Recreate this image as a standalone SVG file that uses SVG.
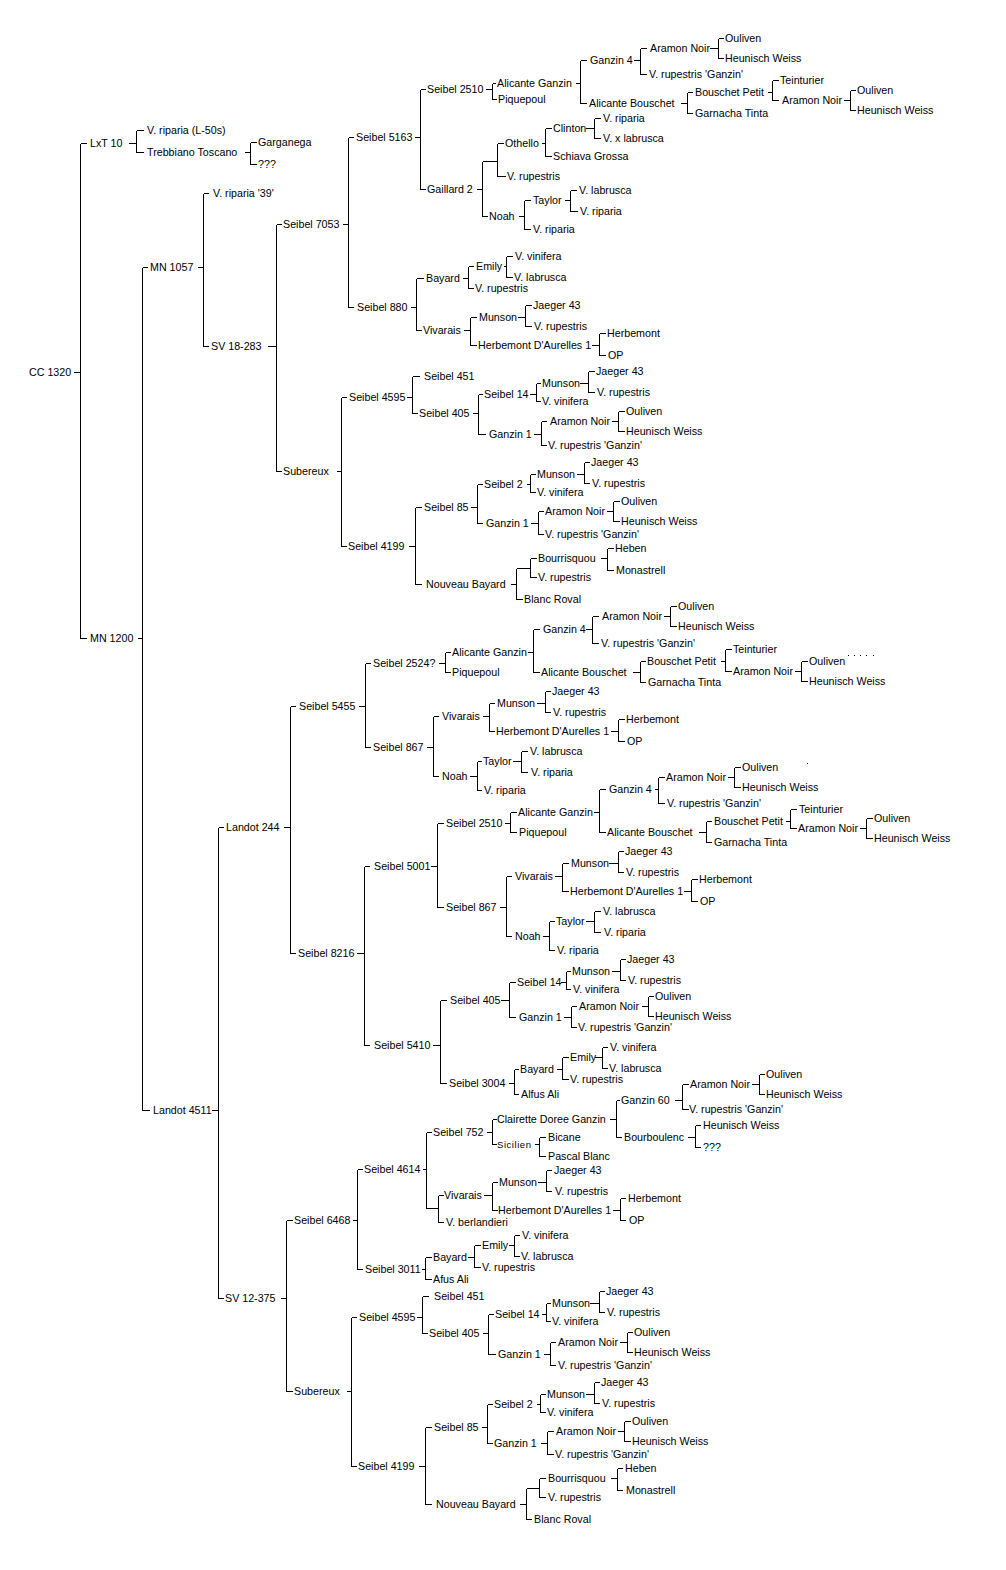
<svg xmlns="http://www.w3.org/2000/svg" width="1006" height="1570" viewBox="0 0 1006 1570">
<style>
text{font-family:"Liberation Sans",Arial,sans-serif;font-size:10.7px;fill:#000}
.sm{font-size:9.5px}
#connectors path{fill:none;stroke:#000;stroke-width:1}
</style>
<rect width="1006" height="1570" fill="#fff"/>
<g id="connectors" transform="translate(0.5,0.5)" shape-rendering="crispEdges">
<path d="M73 372H80M80 143V638M80 143H86M80 638H86"/>
<path d="M128 143H136M136 130V152M136 130H143M136 152H143"/>
<path d="M244 152H250M250 142V164M250 142H256M250 164H256"/>
<path d="M137 638H142M142 267V1110M142 267H147M142 1110H149"/>
<path d="M197 267H203M203 193V346M203 193H208M203 346H208"/>
<path d="M267 346H276M276 224V471M276 224H281M276 471H281"/>
<path d="M342 224H348M348 137V307M348 137H353M348 307H353"/>
<path d="M414 137H420M420 89V189M420 89H425M420 189H425"/>
<path d="M485 89H492M492 83V99M492 83H495M492 99H496"/>
<path d="M575 83H580M580 60V103M580 60H586M580 103H586"/>
<path d="M633 60H640M640 48V74M640 48H646M640 74H646"/>
<path d="M709 48H718M718 38V58M718 38H723M718 58H723"/>
<path d="M680 103H687M687 92V113M687 92H692M687 113H692"/>
<path d="M767 92H772M772 80V100M772 80H778M772 100H778"/>
<path d="M843 100H850M850 90V110M850 90H855M850 110H855"/>
<path d="M476 189H482M482 161V216M482 161H497M482 216H487M497 143V176M497 143H503M497 176H505"/>
<path d="M541 143H545M545 128V156M545 128H551M545 156H551"/>
<path d="M585 128H594M594 118V138M594 118H600M594 138H600"/>
<path d="M518 216H524M524 200V229M524 200H530M524 229H530"/>
<path d="M564 200H570M570 190V211M570 190H576M570 211H577"/>
<path d="M410 307H416M416 278V330M416 278H423M416 330H421"/>
<path d="M462 278H468M468 266V288M468 266H473M468 288H473"/>
<path d="M503 266H506M506 256V277M506 256H512M506 277H512"/>
<path d="M463 330H470M470 317V345M470 317H476M470 345H476"/>
<path d="M517 317H525M525 305V326M525 305H531M525 326H531"/>
<path d="M591 345H599M599 333V355M599 333H605M599 355H605"/>
<path d="M336 471H341M341 397V546M341 397H346M341 546H346"/>
<path d="M406 397H412M412 376V413M412 376H419M412 413H417"/>
<path d="M472 413H478M478 394V434M478 394H482M478 434H485"/>
<path d="M529 394H536M536 383V401M536 383H540M536 401H540"/>
<path d="M579 383H588M588 371V392M588 371H594M588 392H594"/>
<path d="M533 434H541M541 421V445M541 421H546M541 445H546"/>
<path d="M611 421H618M618 411V431M618 411H624M618 431H624"/>
<path d="M408 546H415M415 507V584M415 507H421M415 584H421"/>
<path d="M470 507H477M477 484V523M477 484H482M477 523H482"/>
<path d="M526 484H530M530 474V492M530 474H535M530 492H535"/>
<path d="M576 474H584M584 462V483M584 462H589M584 483H589"/>
<path d="M530 523H538M538 511V534M538 511H543M538 534H543"/>
<path d="M606 511H613M613 501V521M613 501H619M613 521H619"/>
<path d="M510 584H516M516 568V599M516 568H530M516 599H522M530 558V577M530 558H536M530 577H536"/>
<path d="M600 558H607M607 548V570M607 548H613M607 570H613"/>
<path d="M211 1110H218M218 827V1298M218 827H223M218 1298H223"/>
<path d="M283 827H290M290 706V953M290 706H295M290 953H295"/>
<path d="M358 706H365M365 663V747M365 663H370M365 747H370"/>
<path d="M438 663H445M445 652V672M445 652H450M445 672H450"/>
<path d="M527 652H533M533 629V672M533 629H539M533 672H539"/>
<path d="M585 629H592M592 616V643M592 616H598M592 643H598"/>
<path d="M663 616H670M670 606V626M670 606H676M670 626H676"/>
<path d="M632 672H640M640 661V682M640 661H645M640 682H645"/>
<path d="M720 661H725M725 649V671M725 649H731M725 671H731"/>
<path d="M794 671H801M801 661V681M801 661H807M801 681H807"/>
<path d="M426 747H433M433 716V776M433 716H438M433 776H438"/>
<path d="M482 716H489M489 703V731M489 703H494M489 731H494"/>
<path d="M536 703H545M545 691V712M545 691H550M545 712H550"/>
<path d="M610 731H618M618 719V741M618 719H624M618 741H624"/>
<path d="M469 776H477M477 761V790M477 761H481M477 790H481"/>
<path d="M512 761H521M521 751V772M521 751H527M521 772H527"/>
<path d="M356 953H364M364 866V1045M364 866H369M364 1045H369"/>
<path d="M430 866H437M437 823V907M437 823H443M437 907H443"/>
<path d="M504 823H510M510 812V832M510 812H516M510 832H516"/>
<path d="M593 812H599M599 789V832M599 789H605M599 832H605"/>
<path d="M654 789H658M658 777V803M658 777H664M658 803H664"/>
<path d="M727 777H734M734 767V787M734 767H740M734 787H740"/>
<path d="M698 832H706M706 821V842M706 821H711M706 842H711"/>
<path d="M785 821H790M790 809V828M790 809H796M790 828H796"/>
<path d="M859 828H866M866 818V838M866 818H872M866 838H872"/>
<path d="M499 907H506M506 876V936M506 876H511M506 936H511"/>
<path d="M554 876H562M562 863V891M562 863H568M562 891H568"/>
<path d="M608 863H618M618 851V872M618 851H623M618 872H623"/>
<path d="M683 891H691M691 879V901M691 879H697M691 901H697"/>
<path d="M542 936H549M549 921V950M549 921H554M549 950H554"/>
<path d="M585 921H594M594 911V932M594 911H600M594 932H600"/>
<path d="M432 1045H440M440 1000V1083M440 1000H446M440 1083H446"/>
<path d="M500 1000H509M509 982V1017M509 982H515M509 1017H515"/>
<path d="M560 982H566M566 971V989M566 971H570M566 989H570"/>
<path d="M611 971H620M620 959V980M620 959H625M620 980H625"/>
<path d="M563 1017H571M571 1006V1027M571 1006H576M571 1027H576"/>
<path d="M641 1006H648M648 996V1016M648 996H653M648 1016H653"/>
<path d="M508 1083H514M514 1069V1094M514 1069H518M514 1094H518"/>
<path d="M556 1069H562M562 1057V1079M562 1057H568M562 1079H568"/>
<path d="M594 1057H602M602 1047V1068M602 1047H607M602 1068H607"/>
<path d="M280 1298H286M286 1220V1391M286 1220H292M286 1391H292"/>
<path d="M352 1220H357M357 1169V1269M357 1169H362M357 1269H362"/>
<path d="M422 1169H426M426 1132V1208M426 1132H431M426 1208H438M438 1195V1222M438 1195H443M438 1222H443"/>
<path d="M486 1132H492M492 1119V1144M492 1119H496M492 1144H496"/>
<path d="M609 1119H616M616 1100V1137M616 1100H619M616 1137H621"/>
<path d="M674 1100H682M682 1084V1109M682 1084H688M682 1109H688"/>
<path d="M751 1084H759M759 1074V1094M759 1074H764M759 1094H764"/>
<path d="M687 1137H695M695 1125V1147M695 1125H700M695 1147H700"/>
<path d="M534 1144H539M539 1137V1156M539 1137H545M539 1156H545"/>
<path d="M483 1195H492M492 1182V1210M492 1182H497M492 1210H497"/>
<path d="M537 1182H546M546 1170V1191M546 1170H551M546 1191H551"/>
<path d="M612 1210H620M620 1198V1220M620 1198H625M620 1220H625"/>
<path d="M421 1269H425M425 1257V1279M425 1257H431M425 1279H431"/>
<path d="M467 1257H474M474 1245V1267M474 1245H480M474 1267H480"/>
<path d="M508 1245H514M514 1235V1256M514 1235H519M514 1256H519"/>
<path d="M346 1391H351M351 1317V1466M351 1317H356M351 1466H356"/>
<path d="M416 1317H422M422 1296V1333M422 1296H428M422 1333H427"/>
<path d="M482 1333H488M488 1314V1354M488 1314H493M488 1354H495"/>
<path d="M541 1314H546M546 1303V1321M546 1303H550M546 1321H550"/>
<path d="M589 1303H599M599 1291V1312M599 1291H604M599 1312H604"/>
<path d="M543 1354H550M550 1342V1365M550 1342H555M550 1365H555"/>
<path d="M619 1342H627M627 1332V1352M627 1332H632M627 1352H632"/>
<path d="M418 1466H425M425 1427V1504M425 1427H431M425 1504H431"/>
<path d="M481 1427H487M487 1404V1443M487 1404H492M487 1443H492"/>
<path d="M536 1404H540M540 1394V1412M540 1394H545M540 1412H545"/>
<path d="M585 1394H594M594 1382V1403M594 1382H599M594 1403H599"/>
<path d="M540 1443H547M547 1431V1454M547 1431H553M547 1454H553"/>
<path d="M617 1431H624M624 1421V1441M624 1421H630M624 1441H630"/>
<path d="M519 1504H526M526 1488V1519M526 1488H539M526 1519H531M539 1478V1497M539 1478H545M539 1497H545"/>
<path d="M610 1478H617M617 1468V1490M617 1468H622M617 1490H622"/>
</g>
<g id="marks" fill="#000">
<rect x="807" y="763" width="1" height="1"/>
<rect x="848" y="655" width="1" height="1"/><rect x="854" y="655" width="1" height="1"/><rect x="860" y="655" width="1" height="1"/><rect x="866" y="655" width="1" height="1"/><rect x="873" y="655" width="1" height="1"/>
</g>
<g id="nodes">
<g id="n1"><text x="29" y="376">CC 1320</text></g>
<g id="n2"><text x="90" y="147">LxT 10</text></g>
<g id="n3"><text x="147" y="134">V. riparia (L-50s)</text></g>
<g id="n4"><text x="147" y="156">Trebbiano Toscano</text></g>
<g id="n5"><text x="258" y="146">Garganega</text></g>
<g id="n6"><text x="258" y="168">???</text></g>
<g id="n7"><text x="90" y="642">MN 1200</text></g>
<g id="n8"><text x="150" y="271">MN 1057</text></g>
<g id="n9"><text x="213" y="197">V. riparia '39'</text></g>
<g id="n10"><text x="211" y="350">SV 18-283</text></g>
<g id="n11"><text x="283" y="228">Seibel 7053</text></g>
<g id="n12"><text x="356" y="141">Seibel 5163</text></g>
<g id="n13"><text x="427" y="93">Seibel 2510</text></g>
<g id="n14"><text x="497" y="87">Alicante Ganzin</text></g>
<g id="n15"><text x="498" y="103">Piquepoul</text></g>
<g id="n16"><text x="590" y="64">Ganzin 4</text></g>
<g id="n17"><text x="650" y="52">Aramon Noir</text></g>
<g id="n18"><text x="725" y="42">Ouliven</text></g>
<g id="n19"><text x="725" y="62">Heunisch Weiss</text></g>
<g id="n20"><text x="649" y="78">V. rupestris 'Ganzin'</text></g>
<g id="n21"><text x="589" y="107">Alicante Bouschet</text></g>
<g id="n22"><text x="695" y="96">Bouschet Petit</text></g>
<g id="n23"><text x="780" y="84">Teinturier</text></g>
<g id="n24"><text x="782" y="104">Aramon Noir</text></g>
<g id="n25"><text x="857" y="94">Ouliven</text></g>
<g id="n26"><text x="857" y="114">Heunisch Weiss</text></g>
<g id="n27"><text x="695" y="117">Garnacha Tinta</text></g>
<g id="n28"><text x="427" y="193">Gaillard 2</text></g>
<g id="n29"><text x="505" y="147">Othello</text></g>
<g id="n30"><text x="553" y="132">Clinton</text></g>
<g id="n31"><text x="603" y="122">V. riparia</text></g>
<g id="n32"><text x="603" y="142">V. x labrusca</text></g>
<g id="n33"><text x="553" y="160">Schiava Grossa</text></g>
<g id="n34"><text x="507" y="180">V. rupestris</text></g>
<g id="n35"><text x="489" y="220">Noah</text></g>
<g id="n36"><text x="533" y="204">Taylor</text></g>
<g id="n37"><text x="579" y="194">V. labrusca</text></g>
<g id="n38"><text x="580" y="215">V. riparia</text></g>
<g id="n39"><text x="533" y="233">V. riparia</text></g>
<g id="n40"><text x="357" y="311">Seibel 880</text></g>
<g id="n41"><text x="426" y="282">Bayard</text></g>
<g id="n42"><text x="476" y="270">Emily</text></g>
<g id="n43"><text x="515" y="260">V. vinifera</text></g>
<g id="n44"><text x="514" y="281">V. labrusca</text></g>
<g id="n45"><text x="475" y="292">V. rupestris</text></g>
<g id="n46"><text x="423" y="334">Vivarais</text></g>
<g id="n47"><text x="479" y="321">Munson</text></g>
<g id="n48"><text x="533" y="309">Jaeger 43</text></g>
<g id="n49"><text x="534" y="330">V. rupestris</text></g>
<g id="n50"><text x="478" y="349">Herbemont D'Aurelles 1</text></g>
<g id="n51"><text x="607" y="337">Herbemont</text></g>
<g id="n52"><text x="608" y="359">OP</text></g>
<g id="n53"><text x="283" y="475">Subereux</text></g>
<g id="n54"><text x="349" y="401">Seibel 4595</text></g>
<g id="n55"><text x="424" y="380">Seibel 451</text></g>
<g id="n56"><text x="419" y="417">Seibel 405</text></g>
<g id="n57"><text x="484" y="398">Seibel 14</text></g>
<g id="n58"><text x="542" y="387">Munson</text></g>
<g id="n59"><text x="596" y="375">Jaeger 43</text></g>
<g id="n60"><text x="597" y="396">V. rupestris</text></g>
<g id="n61"><text x="542" y="405">V. vinifera</text></g>
<g id="n62"><text x="489" y="438">Ganzin 1</text></g>
<g id="n63"><text x="550" y="425">Aramon Noir</text></g>
<g id="n64"><text x="626" y="415">Ouliven</text></g>
<g id="n65"><text x="626" y="435">Heunisch Weiss</text></g>
<g id="n66"><text x="548" y="449">V. rupestris 'Ganzin'</text></g>
<g id="n67"><text x="348" y="550">Seibel 4199</text></g>
<g id="n68"><text x="424" y="511">Seibel 85</text></g>
<g id="n69"><text x="484" y="488">Seibel 2</text></g>
<g id="n70"><text x="537" y="478">Munson</text></g>
<g id="n71"><text x="591" y="466">Jaeger 43</text></g>
<g id="n72"><text x="592" y="487">V. rupestris</text></g>
<g id="n73"><text x="537" y="496">V. vinifera</text></g>
<g id="n74"><text x="486" y="527">Ganzin 1</text></g>
<g id="n75"><text x="545" y="515">Aramon Noir</text></g>
<g id="n76"><text x="621" y="505">Ouliven</text></g>
<g id="n77"><text x="621" y="525">Heunisch Weiss</text></g>
<g id="n78"><text x="545" y="538">V. rupestris 'Ganzin'</text></g>
<g id="n79"><text x="426" y="588">Nouveau Bayard</text></g>
<g id="n80"><text x="538" y="562">Bourrisquou</text></g>
<g id="n81"><text x="615" y="552">Heben</text></g>
<g id="n82"><text x="616" y="574">Monastrell</text></g>
<g id="n83"><text x="538" y="581">V. rupestris</text></g>
<g id="n84"><text x="524" y="603">Blanc Roval</text></g>
<g id="n85"><text x="153" y="1114">Landot 4511</text></g>
<g id="n86"><text x="226" y="831">Landot 244</text></g>
<g id="n87"><text x="299" y="710">Seibel 5455</text></g>
<g id="n88"><text x="373" y="667">Seibel 2524?</text></g>
<g id="n89"><text x="452" y="656">Alicante Ganzin</text></g>
<g id="n90"><text x="543" y="633">Ganzin 4</text></g>
<g id="n91"><text x="602" y="620">Aramon Noir</text></g>
<g id="n92"><text x="678" y="610">Ouliven</text></g>
<g id="n93"><text x="678" y="630">Heunisch Weiss</text></g>
<g id="n94"><text x="601" y="647">V. rupestris 'Ganzin'</text></g>
<g id="n95"><text x="541" y="676">Alicante Bouschet</text></g>
<g id="n96"><text x="647" y="665">Bouschet Petit</text></g>
<g id="n97"><text x="733" y="653">Teinturier</text></g>
<g id="n98"><text x="733" y="675">Aramon Noir</text></g>
<g id="n99"><text x="809" y="665">Ouliven</text></g>
<g id="n100"><text x="809" y="685">Heunisch Weiss</text></g>
<g id="n101"><text x="648" y="686">Garnacha Tinta</text></g>
<g id="n102"><text x="452" y="676">Piquepoul</text></g>
<g id="n103"><text x="373" y="751">Seibel 867</text></g>
<g id="n104"><text x="442" y="720">Vivarais</text></g>
<g id="n105"><text x="497" y="707">Munson</text></g>
<g id="n106"><text x="552" y="695">Jaeger 43</text></g>
<g id="n107"><text x="553" y="716">V. rupestris</text></g>
<g id="n108"><text x="496" y="735">Herbemont D'Aurelles 1</text></g>
<g id="n109"><text x="626" y="723">Herbemont</text></g>
<g id="n110"><text x="627" y="745">OP</text></g>
<g id="n111"><text x="442" y="780">Noah</text></g>
<g id="n112"><text x="483" y="765">Taylor</text></g>
<g id="n113"><text x="530" y="755">V. labrusca</text></g>
<g id="n114"><text x="531" y="776">V. riparia</text></g>
<g id="n115"><text x="484" y="794">V. riparia</text></g>
<g id="n116"><text x="298" y="957">Seibel 8216</text></g>
<g id="n117"><text x="374" y="870">Seibel 5001</text></g>
<g id="n118"><text x="446" y="827">Seibel 2510</text></g>
<g id="n119"><text x="518" y="816">Alicante Ganzin</text></g>
<g id="n120"><text x="609" y="793">Ganzin 4</text></g>
<g id="n121"><text x="666" y="781">Aramon Noir</text></g>
<g id="n122"><text x="742" y="771">Ouliven</text></g>
<g id="n123"><text x="742" y="791">Heunisch Weiss</text></g>
<g id="n124"><text x="667" y="807">V. rupestris 'Ganzin'</text></g>
<g id="n125"><text x="607" y="836">Alicante Bouschet</text></g>
<g id="n126"><text x="714" y="825">Bouschet Petit</text></g>
<g id="n127"><text x="799" y="813">Teinturier</text></g>
<g id="n128"><text x="798" y="832">Aramon Noir</text></g>
<g id="n129"><text x="874" y="822">Ouliven</text></g>
<g id="n130"><text x="874" y="842">Heunisch Weiss</text></g>
<g id="n131"><text x="714" y="846">Garnacha Tinta</text></g>
<g id="n132"><text x="519" y="836">Piquepoul</text></g>
<g id="n133"><text x="446" y="911">Seibel 867</text></g>
<g id="n134"><text x="515" y="880">Vivarais</text></g>
<g id="n135"><text x="571" y="867">Munson</text></g>
<g id="n136"><text x="625" y="855">Jaeger 43</text></g>
<g id="n137"><text x="626" y="876">V. rupestris</text></g>
<g id="n138"><text x="570" y="895">Herbemont D'Aurelles 1</text></g>
<g id="n139"><text x="699" y="883">Herbemont</text></g>
<g id="n140"><text x="700" y="905">OP</text></g>
<g id="n141"><text x="515" y="940">Noah</text></g>
<g id="n142"><text x="556" y="925">Taylor</text></g>
<g id="n143"><text x="603" y="915">V. labrusca</text></g>
<g id="n144"><text x="604" y="936">V. riparia</text></g>
<g id="n145"><text x="557" y="954">V. riparia</text></g>
<g id="n146"><text x="374" y="1049">Seibel 5410</text></g>
<g id="n147"><text x="450" y="1004">Seibel 405</text></g>
<g id="n148"><text x="517" y="986">Seibel 14</text></g>
<g id="n149"><text x="572" y="975">Munson</text></g>
<g id="n150"><text x="627" y="963">Jaeger 43</text></g>
<g id="n151"><text x="628" y="984">V. rupestris</text></g>
<g id="n152"><text x="573" y="993">V. vinifera</text></g>
<g id="n153"><text x="519" y="1021">Ganzin 1</text></g>
<g id="n154"><text x="579" y="1010">Aramon Noir</text></g>
<g id="n155"><text x="655" y="1000">Ouliven</text></g>
<g id="n156"><text x="655" y="1020">Heunisch Weiss</text></g>
<g id="n157"><text x="578" y="1031">V. rupestris 'Ganzin'</text></g>
<g id="n158"><text x="449" y="1087">Seibel 3004</text></g>
<g id="n159"><text x="520" y="1073">Bayard</text></g>
<g id="n160"><text x="570" y="1061">Emily</text></g>
<g id="n161"><text x="610" y="1051">V. vinifera</text></g>
<g id="n162"><text x="609" y="1072">V. labrusca</text></g>
<g id="n163"><text x="570" y="1083">V. rupestris</text></g>
<g id="n164"><text x="521" y="1098">Alfus Ali</text></g>
<g id="n165"><text x="225" y="1302">SV 12-375</text></g>
<g id="n166"><text x="294" y="1224">Seibel 6468</text></g>
<g id="n167"><text x="364" y="1173">Seibel 4614</text></g>
<g id="n168"><text x="433" y="1136">Seibel 752</text></g>
<g id="n169"><text x="497" y="1123">Clairette Doree Ganzin</text></g>
<g id="n170"><text x="621" y="1104">Ganzin 60</text></g>
<g id="n171"><text x="690" y="1088">Aramon Noir</text></g>
<g id="n172"><text x="766" y="1078">Ouliven</text></g>
<g id="n173"><text x="766" y="1098">Heunisch Weiss</text></g>
<g id="n174"><text x="689" y="1113">V. rupestris 'Ganzin'</text></g>
<g id="n175"><text x="624" y="1141">Bourboulenc</text></g>
<g id="n176"><text x="703" y="1129">Heunisch Weiss</text></g>
<g id="n177"><text x="703" y="1151">???</text></g>
<g id="n178"><text class="sm" x="497" y="1148" textLength="34" lengthAdjust="spacing">Sicilien</text></g>
<g id="n179"><text x="548" y="1141">Bicane</text></g>
<g id="n180"><text x="548" y="1160">Pascal Blanc</text></g>
<g id="n181"><text x="444" y="1199">Vivarais</text></g>
<g id="n182"><text x="499" y="1186">Munson</text></g>
<g id="n183"><text x="554" y="1174">Jaeger 43</text></g>
<g id="n184"><text x="555" y="1195">V. rupestris</text></g>
<g id="n185"><text x="498" y="1214">Herbemont D'Aurelles 1</text></g>
<g id="n186"><text x="628" y="1202">Herbemont</text></g>
<g id="n187"><text x="629" y="1224">OP</text></g>
<g id="n188"><text x="446" y="1226">V. berlandieri</text></g>
<g id="n189"><text x="365" y="1273">Seibel 3011</text></g>
<g id="n190"><text x="433" y="1261">Bayard</text></g>
<g id="n191"><text x="482" y="1249">Emily</text></g>
<g id="n192"><text x="522" y="1239">V. vinifera</text></g>
<g id="n193"><text x="521" y="1260">V. labrusca</text></g>
<g id="n194"><text x="482" y="1271">V. rupestris</text></g>
<g id="n195"><text x="433" y="1283">Afus Ali</text></g>
<g id="n196"><text x="294" y="1395">Subereux</text></g>
<g id="n197"><text x="359" y="1321">Seibel 4595</text></g>
<g id="n198"><text x="434" y="1300">Seibel 451</text></g>
<g id="n199"><text x="429" y="1337">Seibel 405</text></g>
<g id="n200"><text x="495" y="1318">Seibel 14</text></g>
<g id="n201"><text x="552" y="1307">Munson</text></g>
<g id="n202"><text x="606" y="1295">Jaeger 43</text></g>
<g id="n203"><text x="607" y="1316">V. rupestris</text></g>
<g id="n204"><text x="552" y="1325">V. vinifera</text></g>
<g id="n205"><text x="498" y="1358">Ganzin 1</text></g>
<g id="n206"><text x="558" y="1346">Aramon Noir</text></g>
<g id="n207"><text x="634" y="1336">Ouliven</text></g>
<g id="n208"><text x="634" y="1356">Heunisch Weiss</text></g>
<g id="n209"><text x="558" y="1369">V. rupestris 'Ganzin'</text></g>
<g id="n210"><text x="358" y="1470">Seibel 4199</text></g>
<g id="n211"><text x="434" y="1431">Seibel 85</text></g>
<g id="n212"><text x="494" y="1408">Seibel 2</text></g>
<g id="n213"><text x="547" y="1398">Munson</text></g>
<g id="n214"><text x="601" y="1386">Jaeger 43</text></g>
<g id="n215"><text x="602" y="1407">V. rupestris</text></g>
<g id="n216"><text x="547" y="1416">V. vinifera</text></g>
<g id="n217"><text x="494" y="1447">Ganzin 1</text></g>
<g id="n218"><text x="556" y="1435">Aramon Noir</text></g>
<g id="n219"><text x="632" y="1425">Ouliven</text></g>
<g id="n220"><text x="632" y="1445">Heunisch Weiss</text></g>
<g id="n221"><text x="555" y="1458">V. rupestris 'Ganzin'</text></g>
<g id="n222"><text x="436" y="1508">Nouveau Bayard</text></g>
<g id="n223"><text x="548" y="1482">Bourrisquou</text></g>
<g id="n224"><text x="625" y="1472">Heben</text></g>
<g id="n225"><text x="626" y="1494">Monastrell</text></g>
<g id="n226"><text x="548" y="1501">V. rupestris</text></g>
<g id="n227"><text x="534" y="1523">Blanc Roval</text></g>
</g>
</svg>
